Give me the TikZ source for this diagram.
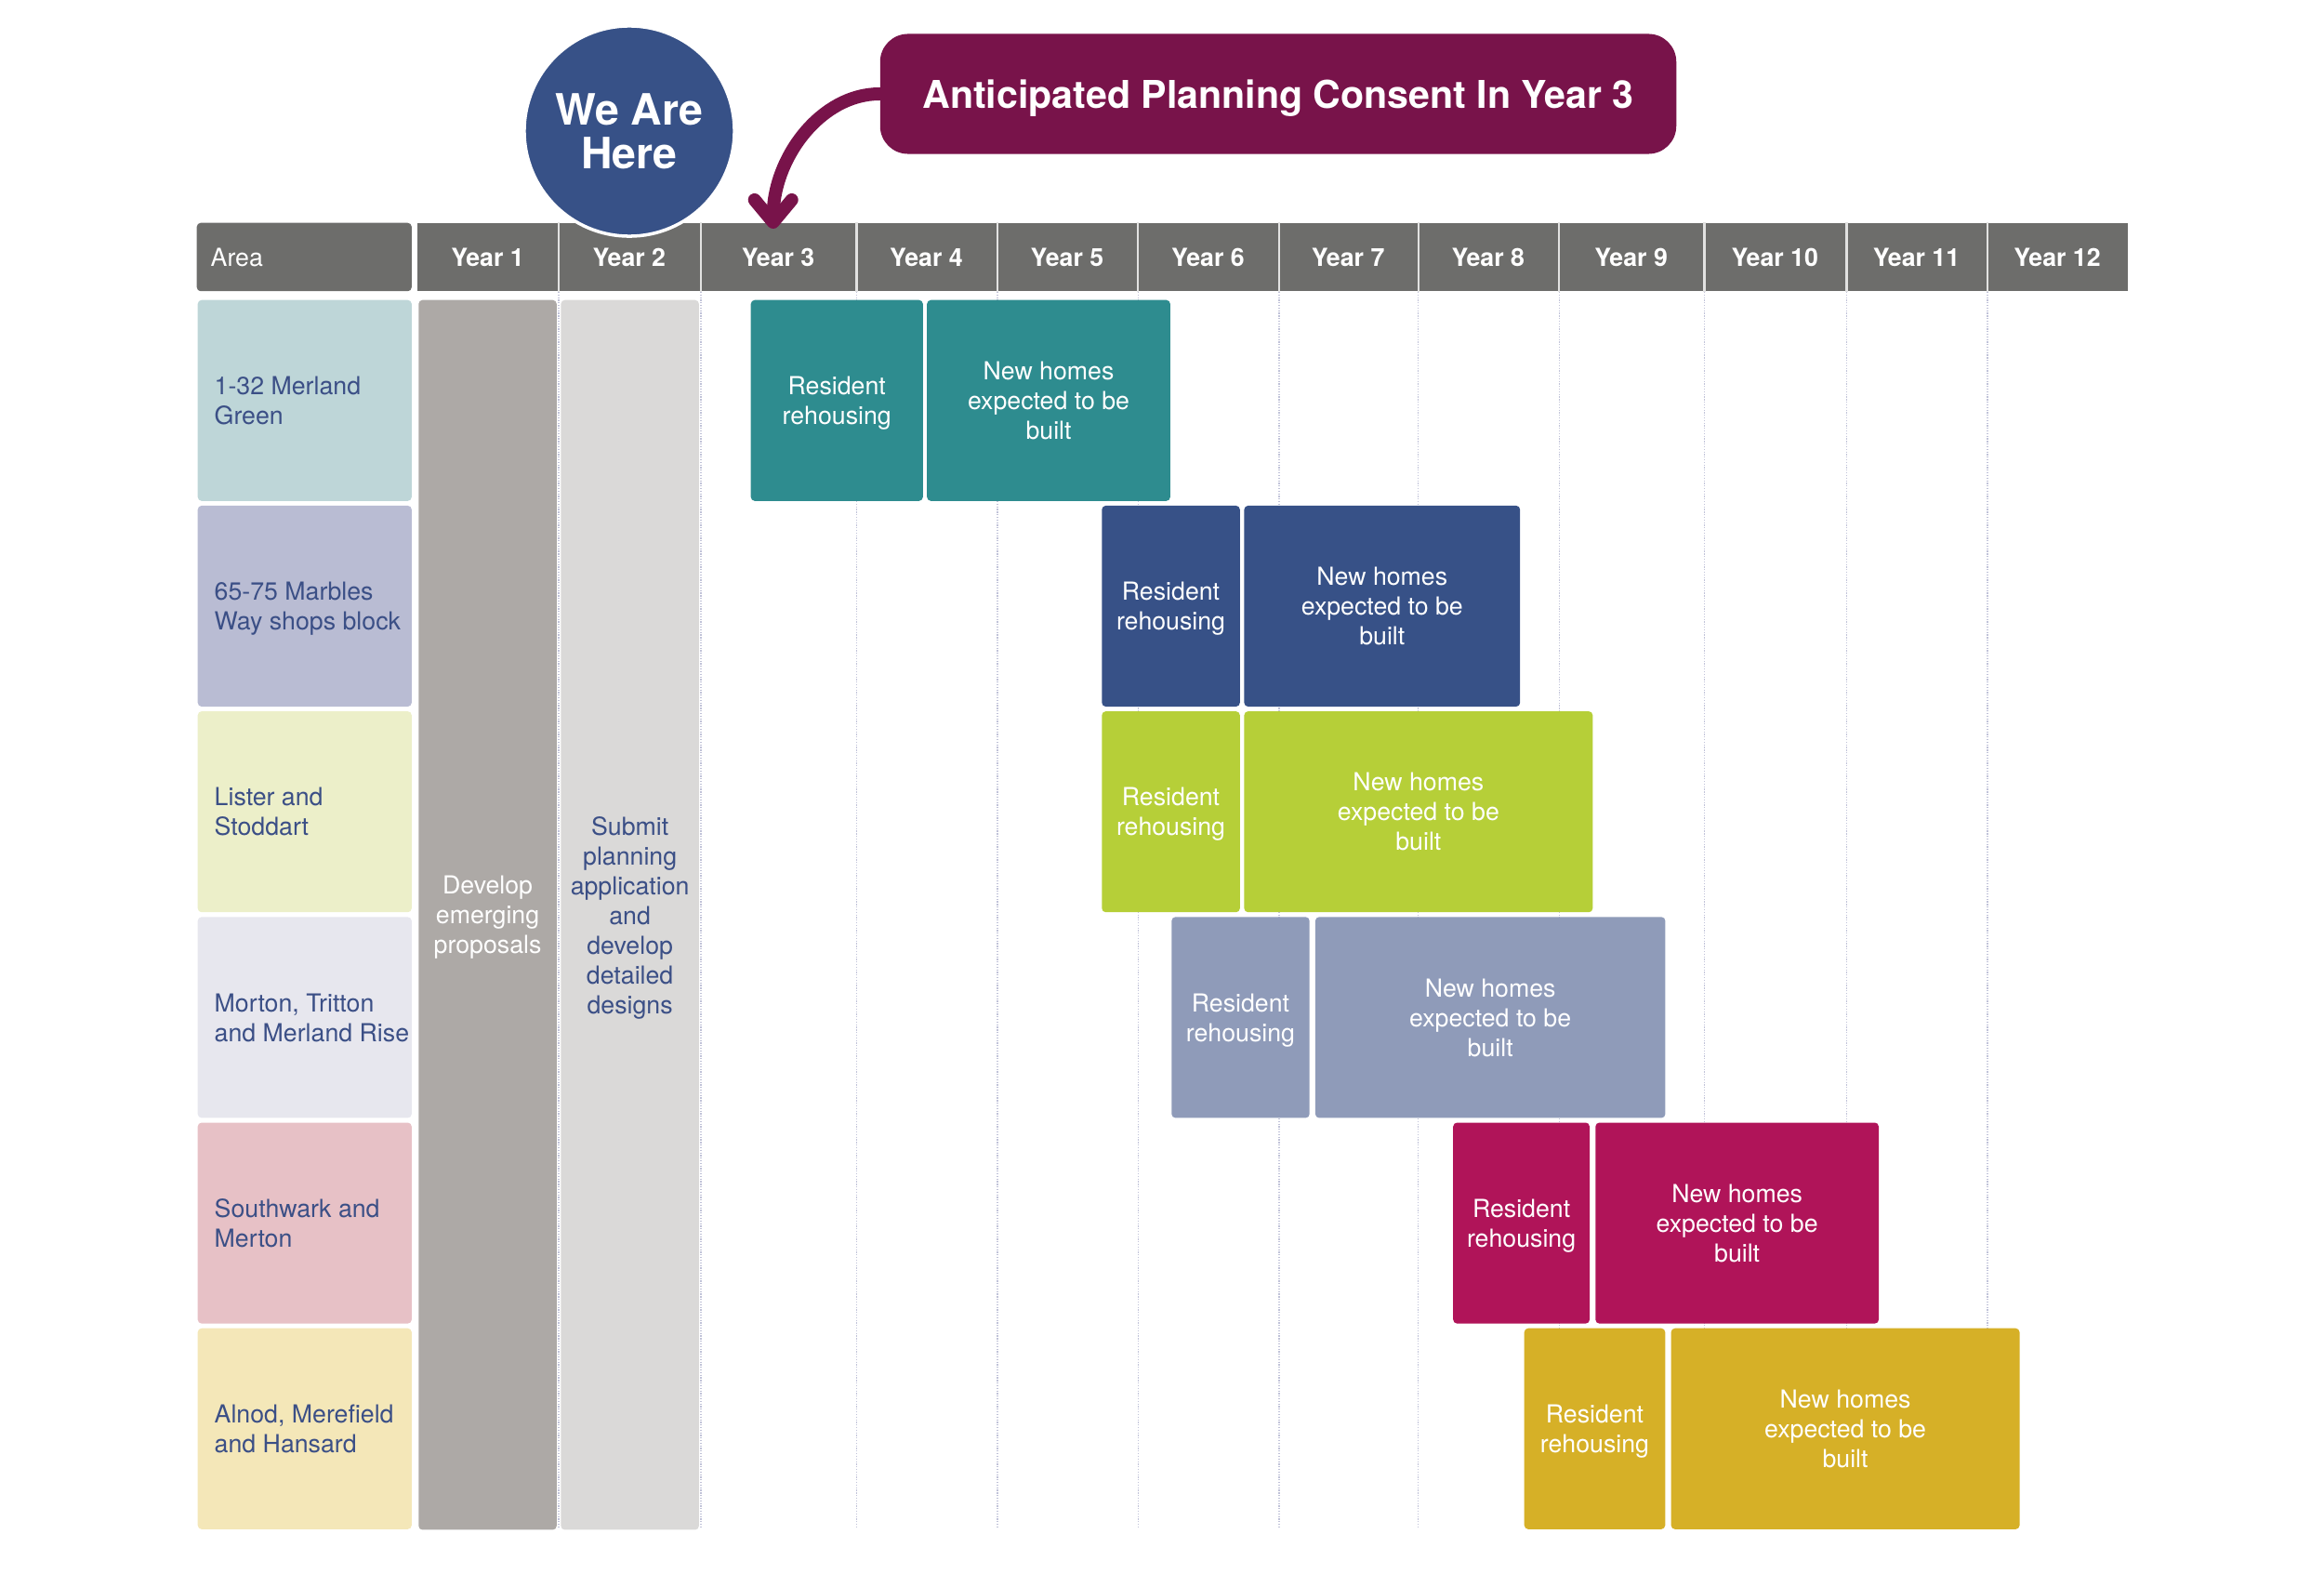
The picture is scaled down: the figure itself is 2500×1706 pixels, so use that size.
\documentclass[tikz,border=0pt]{standalone}
\usepackage{fontspec}
\setmainfont{TeX Gyre Heros}
\usetikzlibrary{arrows.meta,positioning}
\definecolor{headgray}{RGB}{109,109,107}
\definecolor{devgray}{RGB}{173,169,166}
\definecolor{subgray}{RGB}{218,217,216}
\definecolor{labelnavy}{RGB}{59,79,134}
\definecolor{gridcol}{RGB}{192,194,216}
\definecolor{tealbar}{RGB}{46,140,143}
\definecolor{navybar}{RGB}{55,81,135}
\definecolor{limebar}{RGB}{182,207,56}
\definecolor{steelbar}{RGB}{143,155,185}
\definecolor{magbar}{RGB}{176,20,89}
\definecolor{goldbar}{RGB}{214,176,39}
\definecolor{calloutcol}{RGB}{120,19,74}
\definecolor{areateal}{RGB}{190,214,216}
\definecolor{arealav}{RGB}{185,188,211}
\definecolor{arealime}{RGB}{236,239,201}
\definecolor{areagrey}{RGB}{231,231,238}
\definecolor{areapink}{RGB}{231,193,198}
\definecolor{areasand}{RGB}{244,231,184}
\tikzset{
  basebox/.style={rectangle,rounded corners=1.2pt,anchor=north west,inner sep=0pt,align=center,font=\fontsize{7.6}{9.1}\selectfont},
  headbox/.style={basebox,rounded corners=0pt,fill=headgray,text=white,minimum height=0.735cm,font=\fontsize{7.6}{9.1}\selectfont\bfseries},
  areabox/.style={basebox,minimum width=2.3cm,minimum height=2.16cm},
  arealabel/.style={align=left,inner sep=0pt,text=labelnavy,text depth=-0.6pt,font=\fontsize{7.6}{9.1}\selectfont},
  phasebox/.style={basebox,minimum width=1.484cm,minimum height=13.22cm},
  barbox/.style={basebox,text=white,text depth=-1pt,minimum height=2.16cm},
  herenode/.style={circle,fill=navybar,draw=white,line width=1pt,minimum size=2.26cm,inner sep=0pt,text=white,align=center,text depth=-0.8pt,font=\fontsize{13.2}{13.6}\selectfont\bfseries},
  calloutbox/.style={rectangle,rounded corners=0.3cm,fill=calloutcol,minimum width=8.56cm,minimum height=1.29cm,text=white,text depth=-0.3pt,font=\fontsize{11.7}{14}\selectfont\bfseries},
  sepline/.style={white!80!headgray,line width=0.6pt},
  gridline/.style={gridcol,line width=0.35pt,dash pattern=on 0.35pt off 0.45pt},
  callarr/.style={-{Straight Barb[length=0.24cm,width=0.4cm,round]},line width=0.14cm,color=calloutcol,line cap=round}
}

\begin{document}
\begin{tikzpicture}[x=0.01cm,y=-0.01cm]
  \useasboundingbox (0,0) rectangle (2500,1706);

  %% Header row
  \node[headbox,rounded corners=1.2pt,text width=2.01cm,inner xsep=0.15cm,align=left,font=\fontsize{7.6}{9.1}\selectfont] (harea) at (211,239) {Area};
  \node[headbox,minimum width=1.515cm] (h1) at (448,239) {Year 1};
  \node[headbox,minimum width=1.531cm] (h2) at (599.5,239) {Year 2};
  \node[headbox,minimum width=1.674cm] (h3) at (752.6,239) {Year 3};
  \node[headbox,minimum width=1.514cm] (h4) at (920,239) {Year 4};
  \node[headbox,minimum width=1.515cm] (h5) at (1071.4,239) {Year 5};
  \node[headbox,minimum width=1.515cm] (h6) at (1222.9,239) {Year 6};
  \node[headbox,minimum width=1.499cm] (h7) at (1374.4,239) {Year 7};
  \node[headbox,minimum width=1.514cm] (h8) at (1524.3,239) {Year 8};
  \node[headbox,minimum width=1.563cm] (h9) at (1675.7,239) {Year 9};
  \node[headbox,minimum width=1.53cm] (h10) at (1832,239) {Year 10};
  \node[headbox,minimum width=1.515cm] (h11) at (1985,239) {Year 11};
  \node[headbox,minimum width=1.515cm] (h12) at (2136.5,239) {Year 12};

  %% Grid
  \coordinate (gbot) at (0,1644);
  \foreach \i in {1,...,11} {
    \draw[gridline] (h\i.south east) -- (h\i.south east |- gbot);
    \draw[sepline] (h\i.north east) -- (h\i.south east);
  }

  %% Areas
  \node[areabox,fill=areateal] (a1) at (212,322) {};
  \node[areabox,fill=arealav] (a2) at (212,543.2) {};
  \node[areabox,fill=arealime] (a3) at (212,764.4) {};
  \node[areabox,fill=areagrey] (a4) at (212,985.6) {};
  \node[areabox,fill=areapink] (a5) at (212,1206.8) {};
  \node[areabox,fill=areasand] (a6) at (212,1428) {};
  \node[arealabel,right=0.18cm of a1.west] (l1) {1-32 Merland\\Green};
  \node[arealabel,right=0.18cm of a2.west] (l2) {65-75 Marbles\\Way shops block};
  \node[arealabel,right=0.18cm of a3.west] (l3) {Lister and\\Stoddart};
  \node[arealabel,right=0.18cm of a4.west] (l4) {Morton, Tritton\\and Merland Rise};
  \node[arealabel,right=0.18cm of a5.west] (l5) {Southwark and\\Merton};
  \node[arealabel,right=0.18cm of a6.west] (l6) {Alnod, Merefield\\and Hansard};

  %% Years 1-2
  \node[phasebox,fill=devgray,text=white,text depth=-0.2pt] (dev) at (449.6,322) {Develop\\emerging\\proposals};
  \node[phasebox,fill=subgray,text=labelnavy,text depth=-2.2pt] (sub) at (602.7,322)
    {Submit\\planning\\application\\and\\develop\\detailed\\designs};

  %% Rehousing and building
  \node[barbox,fill=tealbar,minimum width=1.85cm] (rr1) at (807,322) {Resident\\rehousing};
  \node[barbox,fill=tealbar,minimum width=2.615cm] (nh1) at (996.5,322) {New homes\\expected to be\\built};
  \node[barbox,fill=navybar,minimum width=1.484cm] (rr2) at (1184.6,543.2) {Resident\\rehousing};
  \node[barbox,fill=navybar,minimum width=2.966cm] (nh2) at (1337.7,543.2) {New homes\\expected to be\\built};
  \node[barbox,fill=limebar,minimum width=1.484cm] (rr3) at (1184.6,764.4) {Resident\\rehousing};
  \node[barbox,fill=limebar,minimum width=3.747cm] (nh3) at (1337.7,764.4) {New homes\\expected to be\\built};
  \node[barbox,fill=steelbar,minimum width=1.483cm] (rr4) at (1259.6,985.6) {Resident\\rehousing};
  \node[barbox,fill=steelbar,minimum width=3.763cm] (nh4) at (1414.2,985.6) {New homes\\expected to be\\built};
  \node[barbox,fill=magbar,minimum width=1.467cm] (rr5) at (1562.5,1206.8) {Resident\\rehousing};
  \node[barbox,fill=magbar,minimum width=3.045cm] (nh5) at (1715.6,1206.8) {New homes\\expected to be\\built};
  \node[barbox,fill=goldbar,minimum width=1.515cm] (rr6) at (1639,1428) {Resident\\rehousing};
  \node[barbox,fill=goldbar,minimum width=3.747cm] (nh6) at (1796.9,1428) {New homes\\expected to be\\built};

  %% Markers
  \node[herenode] (here) at (677,141) {We Are\\Here};
  \node[calloutbox] (consent) at (1375,101) {Anticipated Planning Consent In Year 3};
  \coordinate (tip) at (831.7,246);
  \draw[callarr] (consent.west) .. controls (883,101) and (831.7,170) .. (tip);
\end{tikzpicture}
\end{document}
